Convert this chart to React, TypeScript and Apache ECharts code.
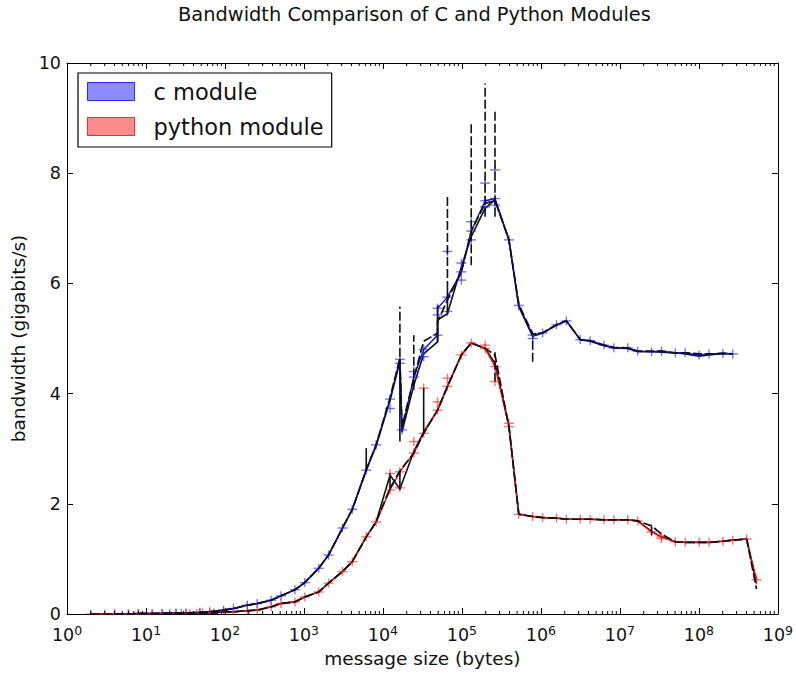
import React, { useEffect, useRef } from "react";
import * as echarts from "echarts";

// ---------- data ----------
const cSizes = [4, 6, 8, 12, 16, 24, 32, 48, 64, 96, 128, 192, 256, 384, 512, 768, 1024, 1536, 2048, 3072, 4096, 6144, 8192, 12288, 16384, 17408, 24576, 32768, 49152, 49152, 65536, 98304, 131072, 196608, 262144, 393216, 524288, 786432, 1048576, 1572864, 2097152, 3145728, 4194304, 6291456, 8388608, 12582912, 16777216, 25165824, 33554432, 50331648, 67108864, 100663296, 134217728, 201326592, 268435456];
const cBandwidth = [0.0, 0.0, 0.01, 0.01, 0.01, 0.02, 0.02, 0.03, 0.04, 0.07, 0.1, 0.16, 0.19, 0.25, 0.33, 0.44, 0.57, 0.83, 1.07, 1.56, 1.9, 2.61, 3.07, 3.9, 4.62, 3.34, 4.3, 4.8, 5.06, 5.55, 5.75, 6.21, 6.95, 7.5, 7.54, 6.79, 5.6, 5.06, 5.1, 5.25, 5.32, 4.98, 4.96, 4.88, 4.83, 4.83, 4.77, 4.76, 4.77, 4.74, 4.74, 4.7, 4.72, 4.73, 4.72];
const cMean = [0.0, 0.0, 0.01, 0.01, 0.01, 0.02, 0.02, 0.03, 0.04, 0.07, 0.1, 0.16, 0.19, 0.25, 0.33, 0.44, 0.57, 0.83, 1.07, 1.56, 1.9, 2.62, 3.05, 3.88, 4.58, 3.3, 4.15, 4.72, 4.94, 5.34, 5.45, 6.3, 6.85, 7.36, 7.52, 6.79, 5.58, 5.04, 5.1, 5.24, 5.32, 4.98, 4.95, 4.87, 4.83, 4.82, 4.76, 4.76, 4.75, 4.74, 4.72, 4.68, 4.7, 4.73, 4.72];
const cMedian = [0.0, 0.0, 0.01, 0.01, 0.01, 0.02, 0.02, 0.03, 0.04, 0.07, 0.1, 0.16, 0.19, 0.25, 0.33, 0.44, 0.57, 0.83, 1.07, 1.56, 1.9, 2.61, 3.07, 3.92, 4.65, 3.4, 4.28, 4.95, 5.1, 5.3, 5.7, 6.2, 6.95, 7.45, 7.5, 6.8, 5.62, 5.08, 5.1, 5.25, 5.32, 4.98, 4.96, 4.88, 4.84, 4.83, 4.77, 4.77, 4.77, 4.74, 4.74, 4.72, 4.72, 4.73, 4.72];
const cExtraSizes = [12288, 16384, 24576, 32768, 49152, 65536, 65536, 98304, 98304, 131072, 131072, 196608, 196608, 262144, 262144, 786432];
const cExtraValues = [3.73, 4.55, 4.4, 4.67, 5.43, 6.58, 5.49, 6.37, 6.06, 7.12, 6.79, 7.82, 7.39, 8.06, 7.42, 5.0];

const pySizes = [2, 3, 4, 6, 8, 12, 16, 20, 24, 28, 32, 36, 44, 48, 52, 64, 72, 96, 128, 192, 256, 384, 512, 768, 1024, 1536, 2048, 3072, 4096, 6144, 8192, 12288, 16384, 24576, 32768, 49152, 65536, 98304, 131072, 196608, 262144, 393216, 524288, 786432, 1048576, 1572864, 2097152, 3145728, 4194304, 6291456, 8388608, 12582912, 16777216, 25165824, 33554432, 50331648, 67108864, 100663296, 134217728, 201326592, 268435456, 402653184, 536870912];
const pyBandwidth = [0.0, 0.0, 0.0, 0.0, 0.0, 0.0, 0.01, 0.01, 0.01, 0.01, 0.01, 0.01, 0.01, 0.02, 0.02, 0.02, 0.02, 0.04, 0.04, 0.06, 0.07, 0.13, 0.19, 0.22, 0.31, 0.4, 0.56, 0.77, 0.95, 1.4, 1.67, 2.25, 2.58, 2.92, 3.28, 3.7, 4.13, 4.7, 4.92, 4.82, 4.49, 3.4, 1.81, 1.77, 1.75, 1.74, 1.72, 1.72, 1.72, 1.71, 1.71, 1.71, 1.69, 1.49, 1.4, 1.31, 1.3, 1.3, 1.3, 1.32, 1.34, 1.36, 0.62];
const pyMean = [0.0, 0.0, 0.0, 0.0, 0.0, 0.0, 0.01, 0.01, 0.01, 0.01, 0.01, 0.01, 0.01, 0.02, 0.02, 0.02, 0.02, 0.04, 0.04, 0.06, 0.07, 0.13, 0.19, 0.22, 0.31, 0.4, 0.56, 0.77, 0.95, 1.4, 1.67, 2.52, 2.27, 2.95, 3.3, 3.7, 4.13, 4.7, 4.92, 4.82, 4.55, 3.42, 1.81, 1.77, 1.75, 1.74, 1.72, 1.72, 1.72, 1.71, 1.71, 1.71, 1.69, 1.5, 1.4, 1.31, 1.3, 1.3, 1.3, 1.32, 1.34, 1.36, 0.55];
const pyMedian = [0.0, 0.0, 0.0, 0.0, 0.0, 0.0, 0.01, 0.01, 0.01, 0.01, 0.01, 0.01, 0.01, 0.02, 0.02, 0.02, 0.02, 0.04, 0.04, 0.06, 0.07, 0.13, 0.19, 0.22, 0.31, 0.4, 0.56, 0.77, 0.95, 1.4, 1.67, 2.28, 2.6, 2.92, 3.28, 3.7, 4.13, 4.7, 4.92, 4.82, 4.7, 3.4, 1.81, 1.77, 1.75, 1.74, 1.72, 1.72, 1.72, 1.71, 1.71, 1.71, 1.69, 1.6, 1.45, 1.31, 1.3, 1.3, 1.3, 1.32, 1.34, 1.36, 0.45];
const pyExtraSizes = [12288, 16384, 24576, 32768, 49152, 65536, 196608, 262144, 393216, 33554432];
const pyExtraValues = [2.55, 2.29, 3.13, 4.1, 3.85, 4.28, 4.88, 4.22, 3.46, 1.37];

// error bars: [size, low, high]
const cSolidBars = [[6144, 2.58, 3.01], [16384, 3.13, 4.58], [49152, 4.94, 5.6], [65536, 5.45, 5.88]];
const cDashedBars = [[16384, 4.67, 5.58], [24576, 4.07, 5.06], [65536, 5.88, 7.57], [131072, 6.33, 8.93], [196608, 7.21, 9.63], [262144, 7.21, 9.12], [786432, 4.58, 5.03]];
const pySolidBars = [[12288, 2.25, 2.55], [16384, 2.25, 2.6], [32768, 3.28, 4.1]];
const pyDashedBars = [[262144, 4.22, 4.75], [25165824, 1.43, 1.65]];

const xDecades = [1, 10, 100, 1e3, 1e4, 1e5, 1e6, 1e7, 1e8];
const xMinorMultipliers = [2, 3, 4, 5, 6, 7, 8, 9];
const yTicks = { min: 0, max: 10, interval: 2 };

const TITLE = "Bandwidth Comparison of C and Python Modules";
const X_NAME = "message size (bytes)";
const Y_NAME = "bandwidth (gigabits/s)";
const LEGEND_C = "c module";
const LEGEND_PY = "python module";

// ---------- styles ----------
const FONT = "DejaVu Sans";
const TXT = "#111";
const BLUE = "#0000ff";
const RED = "#ff0000";
const BLUE_MK = "rgba(40,40,255,0.65)";
const RED_MK = "rgba(255,40,40,0.65)";
const DASH = [9, 3];

const pairs = (xs: number[], ys: number[]) => xs.map((x, i) => [x, ys[i]]);

const lineSeries = (name: string, xs: number[], ys: number[], color: string, width: number, dash: any, z: number) => ({
  type: "line",
  name,
  data: pairs(xs, ys),
  symbol: "none",
  lineStyle: { color, width, type: dash },
  itemStyle: { color },
  z,
  silent: true,
});

const plusSeries = (name: string, xs: number[], ys: number[], color: string) => ({
  type: "custom",
  name,
  data: pairs(xs, ys),
  encode: { x: 0, y: 1 },
  clip: true,
  silent: true,
  z: 3,
  renderItem: (params: any, api: any) => {
    const p = api.coord([api.value(0), api.value(1)]);
    const st = { stroke: color, lineWidth: 1.4, fill: null };
    return {
      type: "group",
      children: [
        { type: "line", shape: { x1: p[0] - 5, y1: p[1], x2: p[0] + 5, y2: p[1] }, style: st },
        { type: "line", shape: { x1: p[0], y1: p[1] - 4.5, x2: p[0], y2: p[1] + 4.5 }, style: st },
      ],
    };
  },
});

const barSeries = (name: string, bars: number[][], dashed: boolean) => ({
  type: "custom",
  name,
  data: bars,
  encode: { x: 0, y: [1, 2] },
  silent: true,
  z: 5,
  renderItem: (params: any, api: any) => {
    const p1 = api.coord([api.value(0), api.value(1)]);
    const p2 = api.coord([api.value(0), api.value(2)]);
    return {
      type: "line",
      shape: { x1: p1[0], y1: p1[1], x2: p2[0], y2: p2[1] },
      style: { stroke: "#111", lineWidth: 1.6, lineDash: dashed ? DASH : null, fill: null },
    };
  },
});

export default function App() {
  const ref = useRef<HTMLDivElement>(null);

  useEffect(() => {
    if (!ref.current) return;
    const chart = echarts.init(ref.current, null, { renderer: "svg" });

    const minorTicks: number[][] = [];
    xDecades.forEach((d) => xMinorMultipliers.forEach((m) => minorTicks.push([d * m])));

    const axisLine = { show: true, onZero: false, lineStyle: { color: "#000", width: 1 } };
    const xLabel = {
      fontFamily: FONT,
      color: TXT,
      margin: 10,
      formatter: (v: number) => "{b|10}{s|" + Math.round(Math.log10(v)) + "}",
      rich: {
        b: { fontFamily: FONT, fontSize: 17.5, color: TXT, lineHeight: 20, verticalAlign: "bottom" },
        s: { fontFamily: FONT, fontSize: 12.5, color: TXT, lineHeight: 10, verticalAlign: "top" },
      },
    };

    const option: any = {
      animation: false,
      backgroundColor: "#fff",
      grid: { left: 67, top: 63, right: 14, bottom: 59, containLabel: false },
      graphic: [
        {
          type: "text",
          left: 178,
          top: 5,
          style: { text: TITLE, fontFamily: FONT, fontSize: 19.4, fill: TXT },
        },
      ],
      legend: {
        left: 78,
        top: 73,
        orient: "vertical",
        icon: "rect",
        itemWidth: 47,
        itemHeight: 18,
        itemGap: 12,
        padding: [7, 8, 9, 9],
        borderColor: "#000",
        borderWidth: 1.2,
        borderRadius: 0,
        backgroundColor: "#fff",
        selectedMode: false,
        textStyle: { fontFamily: FONT, fontSize: 22.5, color: TXT, lineHeight: 18, padding: [0, 0, 0, 14] },
        data: [
          { name: LEGEND_C, itemStyle: { color: "rgba(0,0,255,0.45)", borderColor: "rgba(0,0,255,0.8)", borderWidth: 1 } },
          { name: LEGEND_PY, itemStyle: { color: "rgba(255,0,0,0.45)", borderColor: "rgba(255,0,0,0.8)", borderWidth: 1 } },
        ],
      },
      xAxis: [
        {
          type: "log",
          logBase: 10,
          min: 1,
          max: 1e9,
          position: "bottom",
          axisLine,
          axisTick: { show: true, inside: true, length: 6, lineStyle: { color: "#000" } },
          axisLabel: xLabel,
          splitLine: { show: false },
          name: X_NAME,
          nameLocation: "middle",
          nameGap: 28,
          nameTextStyle: { fontFamily: FONT, fontSize: 18.5, color: TXT, verticalAlign: "top" },
        },
        {
          type: "log",
          logBase: 10,
          min: 1,
          max: 1e9,
          position: "top",
          axisLine,
          axisTick: { show: true, inside: true, length: 6, lineStyle: { color: "#000" } },
          axisLabel: { show: false },
          splitLine: { show: false },
        },
      ],
      yAxis: [
        {
          type: "value",
          ...yTicks,
          position: "left",
          axisLine,
          axisTick: { show: true, inside: true, length: 6, lineStyle: { color: "#000" } },
          axisLabel: { fontFamily: FONT, fontSize: 17.5, color: TXT, margin: 6 },
          splitLine: { show: false },
          name: Y_NAME,
          nameLocation: "middle",
          nameGap: 29,
          nameRotate: 90,
          nameTextStyle: { fontFamily: FONT, fontSize: 18.5, color: TXT },
        },
        {
          type: "value",
          ...yTicks,
          position: "right",
          axisLine,
          axisTick: { show: true, inside: true, length: 6, lineStyle: { color: "#000" } },
          axisLabel: { show: false },
          splitLine: { show: false },
        },
      ],
      series: [
        {
          type: "custom",
          name: "minor ticks",
          data: minorTicks,
          encode: { x: 0 },
          silent: true,
          z: 6,
          renderItem: (params: any, api: any) => {
            const b = api.coord([api.value(0), 0]);
            const t = api.coord([api.value(0), 10]);
            const st = { stroke: "#000", lineWidth: 1 };
            return {
              type: "group",
              children: [
                { type: "line", shape: { x1: b[0], y1: b[1], x2: b[0], y2: b[1] - 3 }, style: st },
                { type: "line", shape: { x1: t[0], y1: t[1], x2: t[0], y2: t[1] + 3 }, style: st },
              ],
            };
          },
        },
        lineSeries("c mean", cSizes, cMean, "#111", 1.6, "solid", 2),
        lineSeries("python mean", pySizes, pyMean, "#111", 1.6, "solid", 2),
        lineSeries(LEGEND_C, cSizes, cBandwidth, BLUE, 1.3, "solid", 3),
        lineSeries(LEGEND_PY, pySizes, pyBandwidth, RED, 1.3, "solid", 3),
        plusSeries("c points", cSizes, cBandwidth, BLUE_MK),
        plusSeries("python points", pySizes, pyBandwidth, RED_MK),
        plusSeries("c samples", cExtraSizes, cExtraValues, BLUE_MK),
        plusSeries("python samples", pyExtraSizes, pyExtraValues, RED_MK),
        lineSeries("c median", cSizes, cMedian, "#111", 1.7, DASH, 4),
        lineSeries("python median", pySizes, pyMedian, "#111", 1.7, DASH, 4),
        barSeries("c spread", cSolidBars, false),
        barSeries("c range", cDashedBars, true),
        barSeries("python spread", pySolidBars, false),
        barSeries("python range", pyDashedBars, true),
      ],
    };

    chart.setOption(option);
    return () => chart.dispose();
  }, []);

  return (
    <div
      ref={ref}
      style={{ position: "absolute", left: 0, top: 0, width: 796, height: 673, background: "#fff" }}
    />
  );
}
